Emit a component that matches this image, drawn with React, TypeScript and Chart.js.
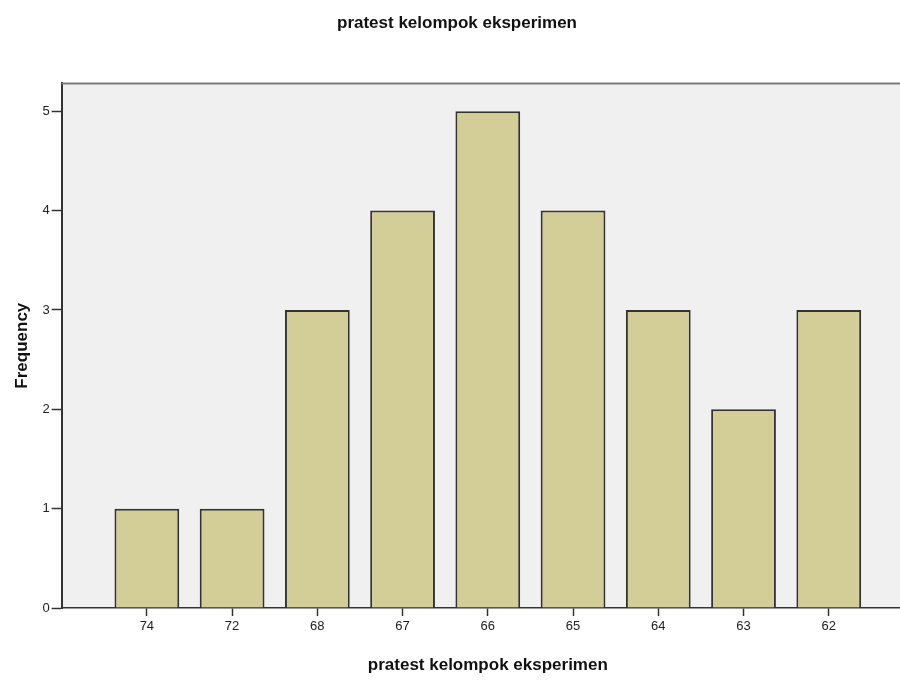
import React, { useEffect, useRef } from "react";
import { Chart, registerables } from "chart.js";

Chart.register(...registerables);

const chartTitle = "pratest kelompok eksperimen";
const xTitle = "pratest kelompok eksperimen";
const yTitle = "Frequency";
const categories = ["74", "72", "68", "67", "66", "65", "64", "63", "62"];
const frequencies = [1, 1, 3, 4, 5, 4, 3, 2, 3];
const yTicks = [0, 1, 2, 3, 4, 5];

const FONT = "'Liberation Sans', Arial, sans-serif";

const frame = {
  id: "frame",
  beforeDraw(chart: any) {
    const { ctx, chartArea } = chart;
    ctx.save();
    ctx.fillStyle = "#f0f0f0";
    ctx.fillRect(chartArea.left, chartArea.top, chartArea.right - chartArea.left, chartArea.bottom - chartArea.top);
    ctx.restore();
  },
  afterDraw(chart: any) {
    const { ctx, chartArea } = chart;
    ctx.save();
    ctx.strokeStyle = "#7a7a7a";
    ctx.lineWidth = 2;
    ctx.beginPath();
    ctx.moveTo(chartArea.left, chartArea.top);
    ctx.lineTo(chartArea.right + 10, chartArea.top);
    ctx.stroke();
    ctx.restore();
  },
};

export default function App() {
  const ref = useRef<HTMLCanvasElement>(null);
  useEffect(() => {
    const labels = ["", ...categories, ""];
    const data = [null, ...frequencies, null];
    const chart = new Chart(ref.current as HTMLCanvasElement, {
      type: "bar",
      data: {
        labels,
        datasets: [
          {
            data,
            backgroundColor: "#d3ce97",
            borderColor: "#333333",
            borderWidth: 2,
            borderSkipped: "bottom",
            categoryPercentage: 1,
            barPercentage: 0.76,
          },
        ],
      },
      options: {
        animation: false,
        responsive: false,
        maintainAspectRatio: false,
        layout: { padding: { left: 0, right: 26, top: 0, bottom: 0 } },
        plugins: {
          legend: { display: false },
          tooltip: { enabled: false },
          title: {
            display: true,
            text: chartTitle,
            color: "#111",
            font: { family: FONT, size: 17, weight: "bold" },
            padding: { top: 13, bottom: 50 },
          },
        },
        scales: {
          x: {
            type: "category",
            offset: false,
            border: { display: true, color: "#333", width: 1.5 },
            grid: {
              offset: false,
              drawOnChartArea: false,
              drawTicks: true,
              tickLength: 8,
              tickColor: (c: any) => (c.index === 0 || c.index === 10 ? "rgba(0,0,0,0)" : "#333"),
              tickWidth: 1.5,
            },
            ticks: {
              color: "#222",
              font: { family: FONT, size: 13 },
              padding: 3,
              autoSkip: false,
              maxRotation: 0,
            },
            title: {
              display: true,
              text: xTitle,
              color: "#111",
              font: { family: FONT, size: 17, weight: "bold" },
              padding: { top: 18, bottom: 5 },
            },
          },
          y: {
            min: 0,
            max: 5.28,
            afterBuildTicks(scale: any) {
              scale.ticks = yTicks.map((v) => ({ value: v }));
            },
            border: { display: true, color: "#333", width: 2 },
            grid: {
              drawOnChartArea: false,
              drawTicks: true,
              tickLength: 10,
              tickColor: "#333",
              tickWidth: 1.5,
            },
            ticks: {
              color: "#222",
              font: { family: FONT, size: 13 },
              padding: 2,
            },
            title: {
              display: true,
              text: yTitle,
              color: "#111",
              font: { family: FONT, size: 17, weight: "bold" },
              padding: { top: 12, bottom: 8 },
            },
          },
        },
      },
      plugins: [frame],
    });
    return () => chart.destroy();
  }, []);
  return (
    <div style={{ position: "fixed", left: 0, top: 0, width: 900, height: 681, overflow: "hidden", background: "#fff" }}>
      <canvas ref={ref} width={940} height={681} style={{ display: "block", width: 940, height: 681 }} />
    </div>
  );
}
